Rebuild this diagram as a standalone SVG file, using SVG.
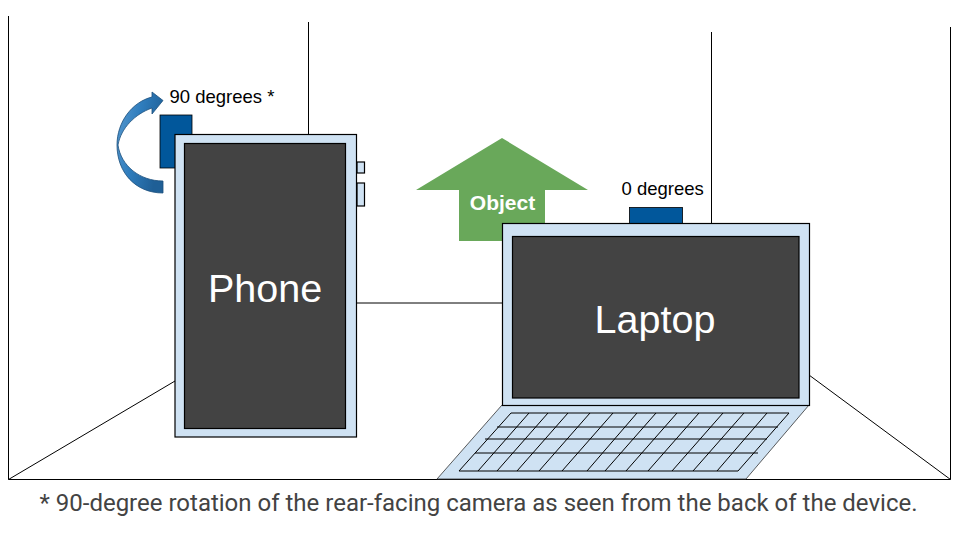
<svg xmlns="http://www.w3.org/2000/svg" width="960" height="540" viewBox="0 0 960 540">
<defs>
<linearGradient id="rot" x1="0" y1="0" x2="1" y2="0.4"><stop offset="0" stop-color="#5b9bd0"/><stop offset="0.5" stop-color="#2f7dbd"/><stop offset="1" stop-color="#1f5f96"/></linearGradient>
</defs>
<style>
.wall{fill:none;stroke:#000;stroke-width:1}
.body{fill:#cfe2f3;stroke:#000;stroke-width:1.2}
.deck{fill:#cfe2f3;stroke:#333;stroke-width:0.8}
.screen{fill:#434343;stroke:#000;stroke-width:1.2}
.cam{fill:#01579b;stroke:#000;stroke-width:0.8}
.key{fill:none;stroke:#000;stroke-width:1}
text{font-family:"Liberation Sans",Arial,sans-serif}
.small{font-size:18.500px;fill:#000}
.big{font-size:39.500px;fill:#fff;text-anchor:middle}
</style>
<g id="connectors">
<path class="wall" d="M8.500 16V479.500H950.500M950.500 27V479.500M308.500 22V134M711.500 32V223M8.500 479.500L175 381M950.500 479.500L809 375M356 303H502"/>
</g>
<g id="rotation-arrow">
<path d="M163 193C135 193 117 172 117 145C117 122 132 102 152 97V92L163 100.5L152 114V108C135 114 121 128 118 145C121 166 140 181 163 181Z" fill="url(#rot)" stroke="#1c4f7c" stroke-width="0.8"/>
</g>
<g id="phone-camera"><rect class="cam" x="160" y="115" width="32" height="53"/></g>
<g id="phone">
<rect class="body" x="357" y="162" width="7.500" height="11"/>
<rect class="body" x="357" y="183" width="7.500" height="23"/>
<rect class="body" x="175" y="134.500" width="181.500" height="302.500"/>
<rect class="screen" x="184.500" y="143.500" width="161" height="285"/>
<text class="big" x="265" y="302">Phone</text>
</g>
<g id="rotation-label"><text class="small" x="169.500" y="103">90 degrees *</text></g>
<g id="object">
<path d="M502 138L588 190H545V241H459V190H416Z" fill="#69a85a"/>
<text x="502.500" y="210" font-size="21" font-weight="700" fill="#fff" text-anchor="middle">Object</text>
</g>
<g id="laptop-camera"><rect class="cam" x="629.500" y="207.500" width="53" height="16"/></g>
<g id="laptop-label"><text class="small" x="621.500" y="195">0 degrees</text></g>
<g id="laptop">
<path class="deck" d="M502 405H809L746 479H437Z"/>
<path class="key" d="M511 413H789M497 427H778M485 439H767M475 453H758M459 471H738M511 413L459 471M529 413L478 471M548 413L497 471M568 413L517 471M590 413L539 471M613 413L562 471M637 413L587 471M656 413L605 471M677 413L626 471M699 413L648 471M723 413L672 471M744 413L693 471M767 413L717 471M789 413L738 471"/>
<rect class="body" x="502.500" y="223.500" width="307" height="182"/>
<rect class="screen" x="512.500" y="236.500" width="286.500" height="161.500"/>
<text class="big" x="655" y="333">Laptop</text>
</g>
<g id="caption"><text x="478.500" y="511" font-size="24" fill="#434343" text-anchor="middle" style="font-family:Roboto,'Liberation Sans',sans-serif">* 90-degree rotation of the rear-facing camera as seen from the back of the device.</text></g>
</svg>
